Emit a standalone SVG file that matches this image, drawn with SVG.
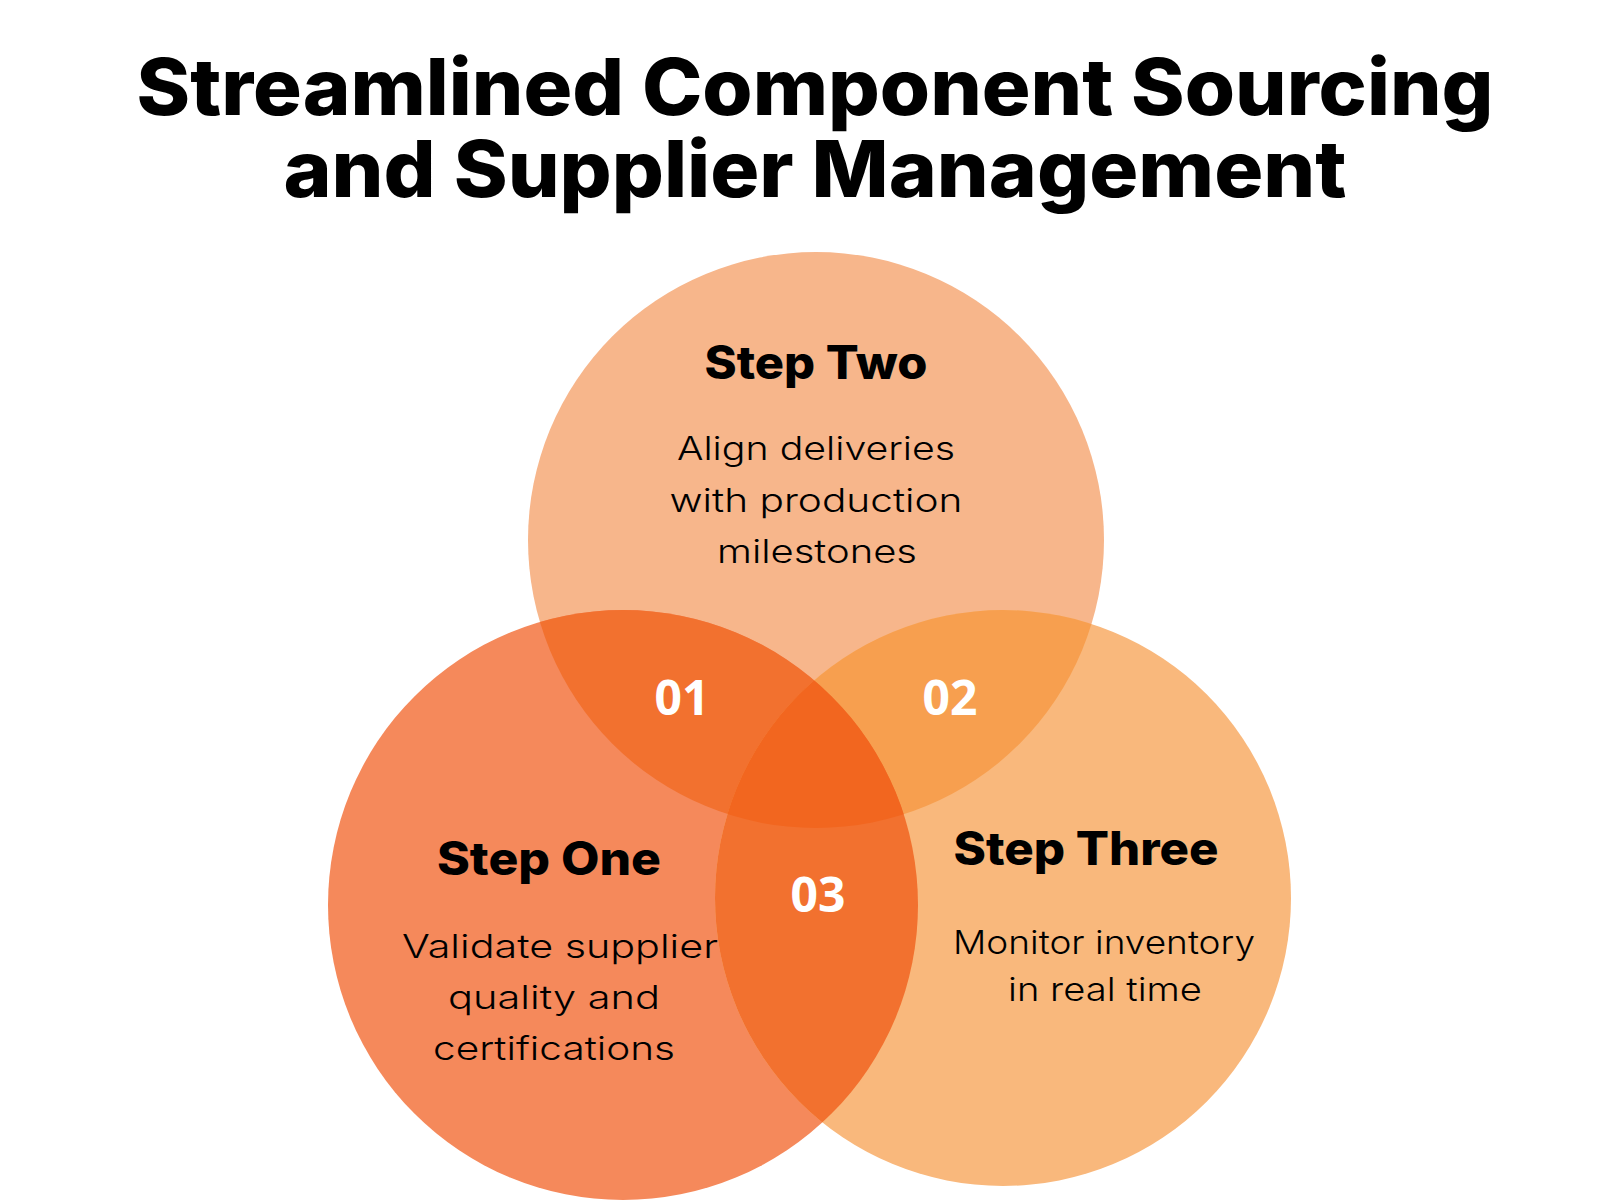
<svg xmlns="http://www.w3.org/2000/svg" width="1600" height="1200" viewBox="0 0 1600 1200">
  <style>
    .title { font-family: Inter, "Open Sans", "Liberation Sans", sans-serif; font-weight: 800; font-size: 78px; fill: #000; text-anchor: middle; }
    .head { font-family: Inter, "Open Sans", "Liberation Sans", sans-serif; font-weight: 800; font-size: 46px; fill: #000; text-anchor: middle; }
    .body { font-family: Inter, "Open Sans", "Liberation Sans", sans-serif; font-weight: 300; font-size: 33px; fill: #000; text-anchor: middle; }
    .num { font-family: "Open Sans", "Noto Sans", "Liberation Sans", sans-serif; font-weight: 700; font-size: 48px; fill: #fff; text-anchor: middle; }
  </style>
  <defs>
    <clipPath id="cTop"><circle cx="816" cy="540" r="288"/></clipPath>
    <clipPath id="cLeft"><circle cx="623" cy="905" r="295"/></clipPath>
    <clipPath id="cRight"><circle cx="1003" cy="898" r="288"/></clipPath>
  </defs>
  <rect width="1600" height="1200" fill="#ffffff"/>

  <g id="title">
    <text class="title" x="815" y="115" textLength="1357" lengthAdjust="spacingAndGlyphs">Streamlined Component Sourcing</text>
    <text class="title" x="815" y="197" textLength="1063" lengthAdjust="spacingAndGlyphs">and Supplier Management</text>
  </g>

  <g id="venn-shapes">
    <circle id="circle-step-two" cx="816" cy="540" r="288" fill="#F7B68B"/>
    <circle id="circle-step-one" cx="623" cy="905" r="295" fill="#F5895B"/>
    <circle id="circle-step-three" cx="1003" cy="898" r="288" fill="#F9B87C"/>
    <circle id="overlap-01" cx="816" cy="540" r="288" fill="#F2712F" clip-path="url(#cLeft)"/>
    <circle id="overlap-02" cx="816" cy="540" r="288" fill="#F79F4F" clip-path="url(#cRight)"/>
    <circle id="overlap-03" cx="623" cy="905" r="295" fill="#F2712F" clip-path="url(#cRight)"/>
    <g id="overlap-center" clip-path="url(#cLeft)">
      <circle cx="816" cy="540" r="288" fill="#F2661F" clip-path="url(#cRight)"/>
    </g>
  </g>

  <g id="connectors"></g>

  <g id="node-step-two">
    <text class="head" x="816" y="379" textLength="223" lengthAdjust="spacingAndGlyphs">Step Two</text>
    <text class="body" x="816" y="460" textLength="278" lengthAdjust="spacingAndGlyphs">Align deliveries</text>
    <text class="body" x="816" y="512" textLength="293" lengthAdjust="spacingAndGlyphs">with production</text>
    <text class="body" x="817" y="563" textLength="200" lengthAdjust="spacingAndGlyphs">milestones</text>
  </g>

  <g id="node-step-one">
    <text class="head" x="549" y="875" textLength="224" lengthAdjust="spacingAndGlyphs">Step One</text>
    <text class="body" x="560" y="958" textLength="316" lengthAdjust="spacingAndGlyphs">Validate supplier</text>
    <text class="body" x="554" y="1009" textLength="212" lengthAdjust="spacingAndGlyphs">quality and</text>
    <text class="body" x="554" y="1060" textLength="242" lengthAdjust="spacingAndGlyphs">certifications</text>
  </g>

  <g id="node-step-three">
    <text class="head" x="1086" y="865" textLength="265" lengthAdjust="spacingAndGlyphs">Step Three</text>
    <text class="body" x="1104" y="954" textLength="302" lengthAdjust="spacingAndGlyphs">Monitor inventory</text>
    <text class="body" x="1105" y="1001" textLength="194" lengthAdjust="spacingAndGlyphs">in real time</text>
  </g>

  <g id="label-01"><text class="num" x="682" y="715">01</text></g>
  <g id="label-02"><text class="num" x="950" y="715">02</text></g>
  <g id="label-03"><text class="num" x="818" y="912">03</text></g>
</svg>
